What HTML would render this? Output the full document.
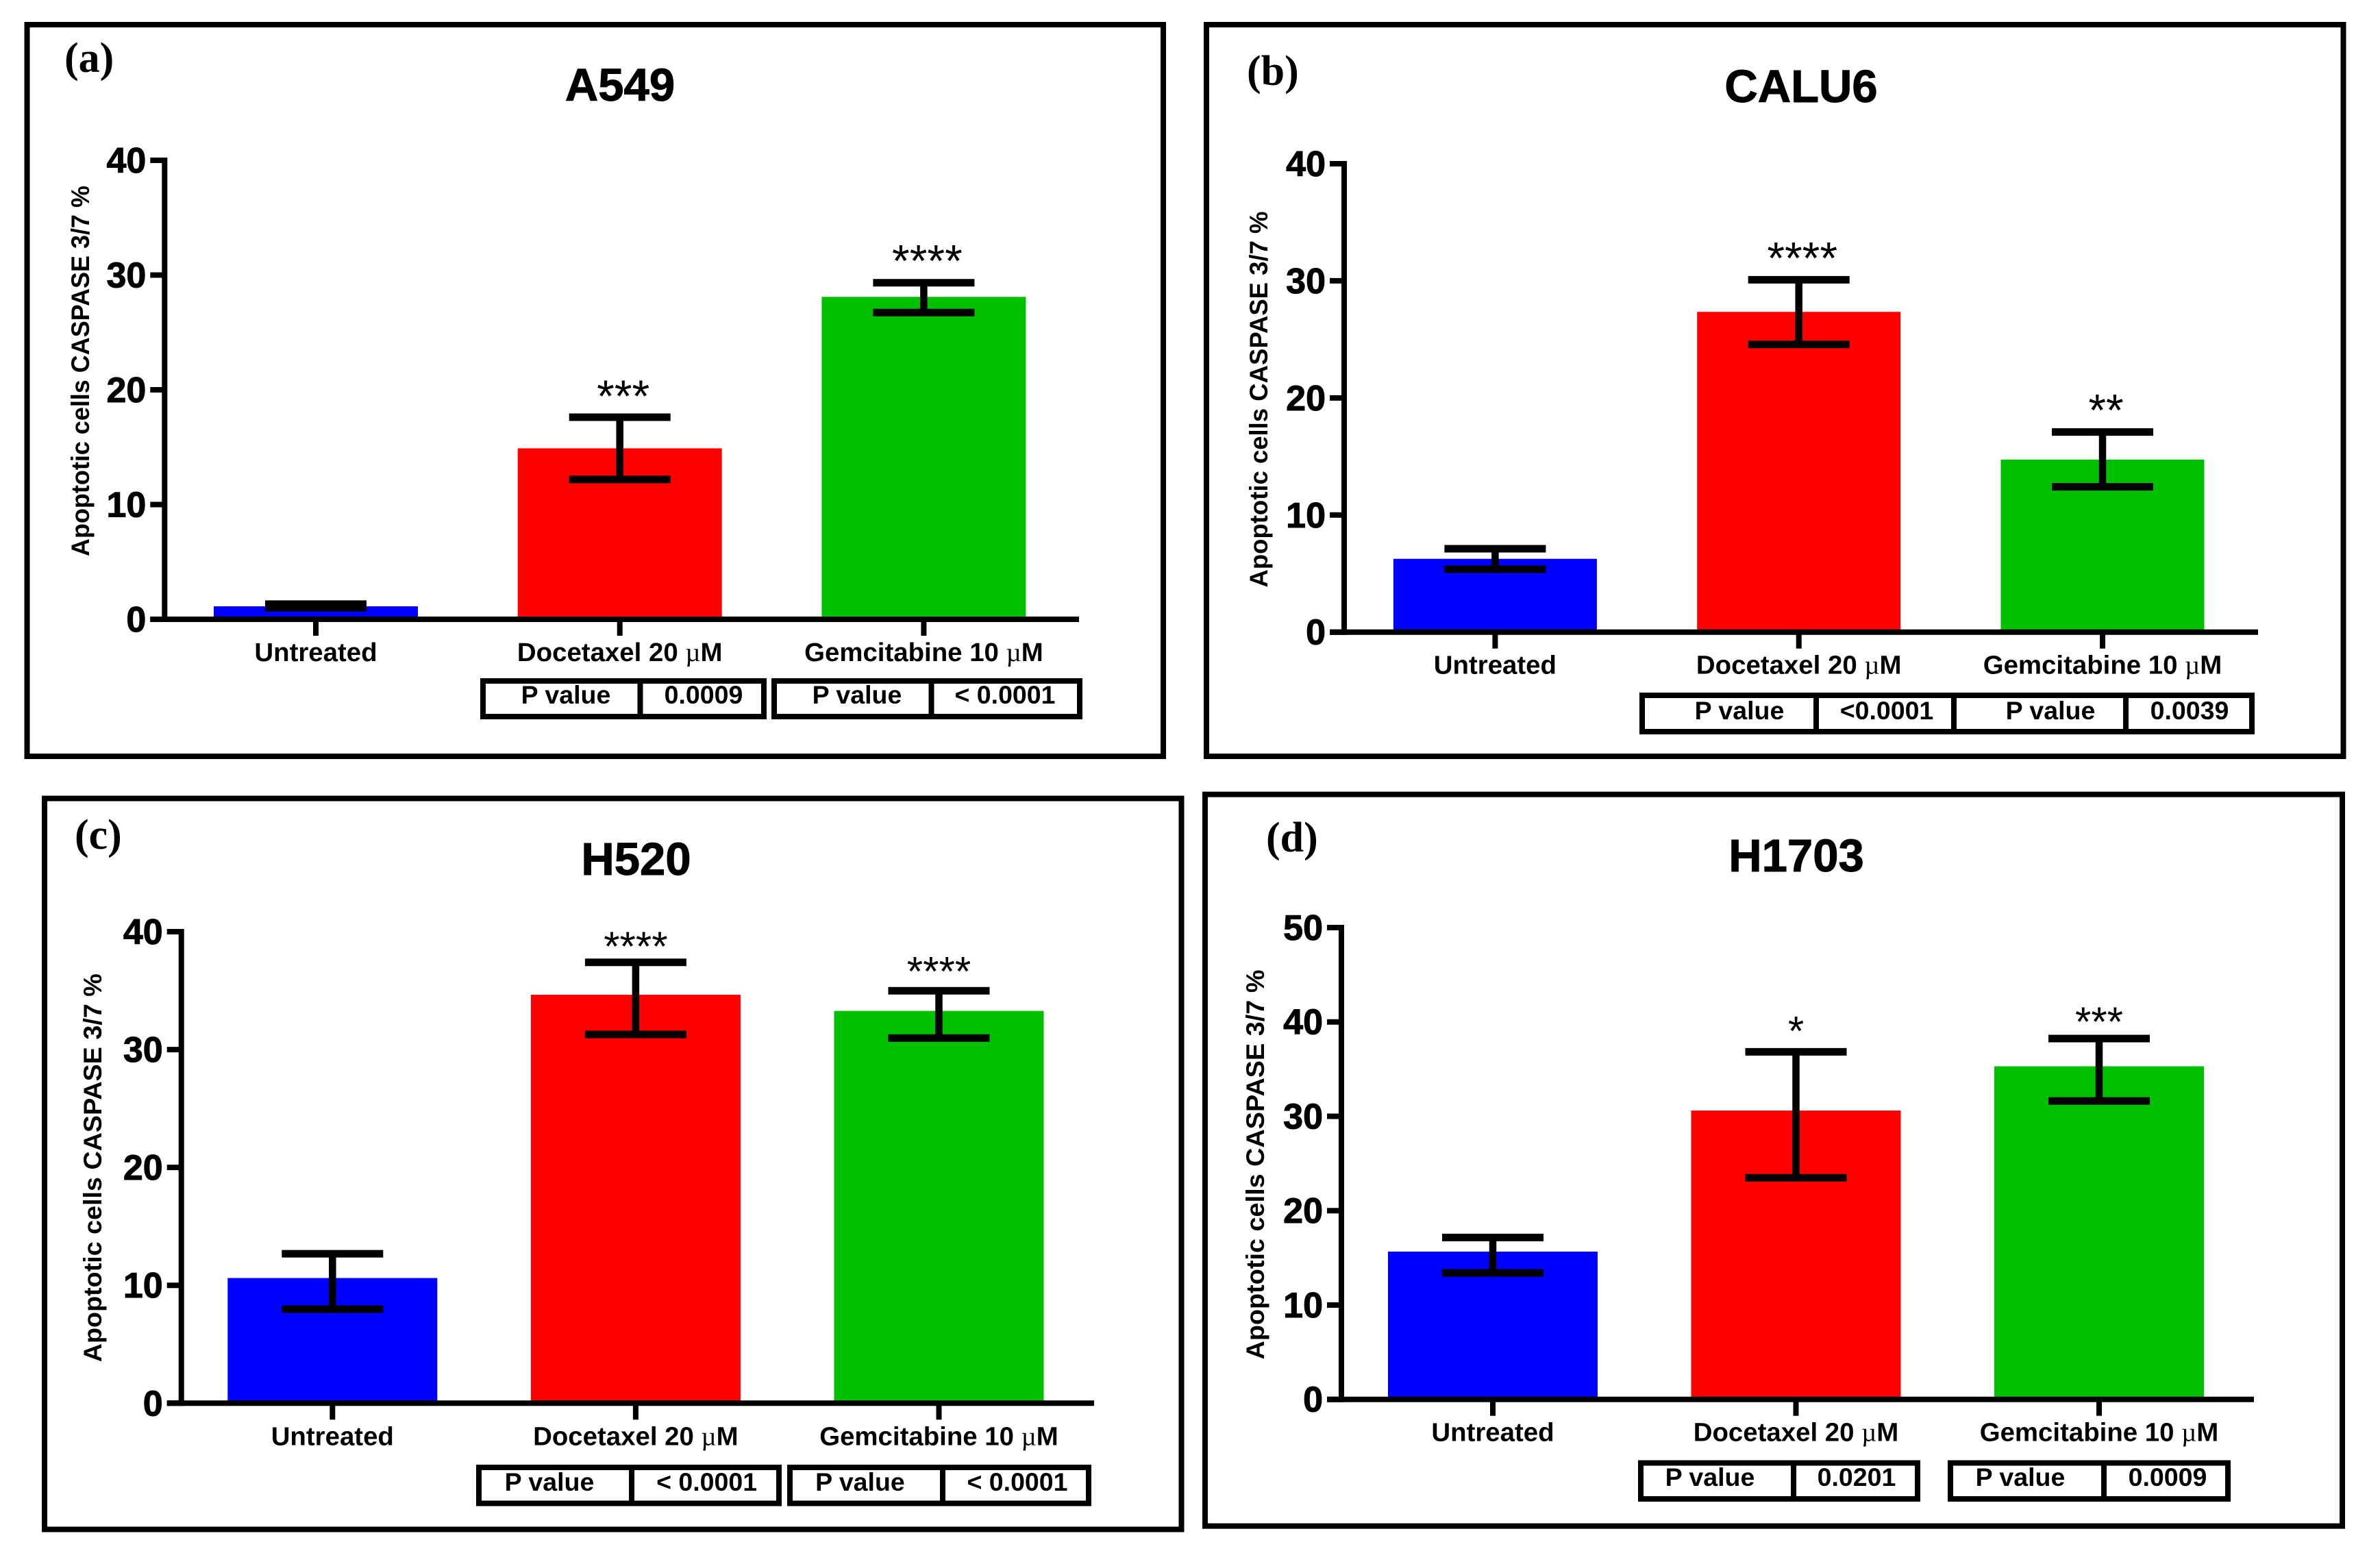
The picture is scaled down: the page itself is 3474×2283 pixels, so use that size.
<!DOCTYPE html>
<html lang="en">
<head>
<meta charset="utf-8">
<title>Apoptotic cells CASPASE 3/7 % in four cell lines</title>
<style>
html,body{margin:0;padding:0;background:#fff;}
svg{display:block;}
text{font-family:"Liberation Sans",sans-serif;fill:#000;}
.frame{fill:none;stroke:#000;stroke-width:8;}
.panel-label{font-family:"Liberation Serif",serif;font-weight:bold;font-size:62px;}
.title{font-weight:bold;font-size:67px;text-anchor:middle;stroke:#000;stroke-width:1;}
.y-title{font-weight:bold;font-size:37px;text-anchor:middle;}
.pbox{fill:none;stroke:#000;stroke-width:8;}
.ptext{font-weight:bold;font-size:37.5px;text-anchor:middle;}
</style>
</head>
<body>
<svg id="figure" xmlns="http://www.w3.org/2000/svg" width="3474" height="2283" viewBox="0 0 3474 2283">
<rect x="0" y="0" width="3474" height="2283" fill="#fff"/>

<g id="panel-a">
  <rect class="frame" x="39.5" y="36" width="1658.5" height="1068"/>
  <text class="panel-label" x="94" y="105">(a)</text>
  <text class="title" x="905" y="147">A549</text>
  <text class="y-title" transform="translate(130,541.5) rotate(-90)" textLength="541" lengthAdjust="spacingAndGlyphs">Apoptotic cells CASPASE 3/7 %</text>
  <g>
    <rect class="pbox" x="705" y="994" width="410" height="52"/>
    <line x1="934.5" x2="934.5" y1="994" y2="1046" stroke="#000" stroke-width="8"/>
    <text class="ptext" x="826" y="1027">P value</text>
    <text class="ptext" x="1027" y="1027">0.0009</text>
  </g>
  <g>
    <rect class="pbox" x="1130" y="994" width="446" height="52"/>
    <line x1="1359.5" x2="1359.5" y1="994" y2="1046" stroke="#000" stroke-width="8"/>
    <text class="ptext" x="1251" y="1027">P value</text>
    <text class="ptext" x="1467" y="1027">&lt; 0.0001</text>
  </g>
</g>

<g id="panel-b">
  <rect class="frame" x="1761" y="36" width="1659.5" height="1068"/>
  <text class="panel-label" x="1820" y="124">(b)</text>
  <text class="title" x="2629" y="149">CALU6</text>
  <text class="y-title" transform="translate(1850,583) rotate(-90)" textLength="549" lengthAdjust="spacingAndGlyphs">Apoptotic cells CASPASE 3/7 %</text>
  <g>
    <rect class="pbox" x="2397" y="1015" width="890" height="53"/>
    <line x1="2651" x2="2651" y1="1015" y2="1068" stroke="#000" stroke-width="8"/>
    <line x1="2852" x2="2852" y1="1015" y2="1068" stroke="#000" stroke-width="8"/>
    <line x1="3103" x2="3103" y1="1015" y2="1068" stroke="#000" stroke-width="8"/>
    <text class="ptext" x="2539" y="1050">P value</text>
    <text class="ptext" x="2754" y="1050">&lt;0.0001</text>
    <text class="ptext" x="2993" y="1050">P value</text>
    <text class="ptext" x="3196" y="1050">0.0039</text>
  </g>
</g>

<g id="panel-c">
  <rect class="frame" x="65" y="1165.5" width="1659.5" height="1067"/>
  <text class="panel-label" x="109" y="1239">(c)</text>
  <text class="title" x="928.5" y="1277">H520</text>
  <text class="y-title" transform="translate(148,1704.7) rotate(-90)" textLength="567" lengthAdjust="spacingAndGlyphs">Apoptotic cells CASPASE 3/7 %</text>
  <g>
    <rect class="pbox" x="699" y="2142" width="438" height="52.5"/>
    <line x1="922" x2="922" y1="2142" y2="2194.5" stroke="#000" stroke-width="8"/>
    <text class="ptext" x="802" y="2176">P value</text>
    <text class="ptext" x="1031.6" y="2176">&lt; 0.0001</text>
  </g>
  <g>
    <rect class="pbox" x="1153" y="2142" width="436" height="52.5"/>
    <line x1="1376" x2="1376" y1="2142" y2="2194.5" stroke="#000" stroke-width="8"/>
    <text class="ptext" x="1255.4" y="2176">P value</text>
    <text class="ptext" x="1485" y="2176">&lt; 0.0001</text>
  </g>
</g>

<g id="panel-d">
  <rect class="frame" x="1759" y="1159.6" width="1660" height="1068"/>
  <text class="panel-label" x="1848" y="1243">(d)</text>
  <text class="title" x="2622" y="1272">H1703</text>
  <text class="y-title" transform="translate(1845,1700) rotate(-90)" textLength="569" lengthAdjust="spacingAndGlyphs">Apoptotic cells CASPASE 3/7 %</text>
  <g>
    <rect class="pbox" x="2395" y="2135.5" width="404" height="52.5"/>
    <line x1="2618" x2="2618" y1="2135.5" y2="2188" stroke="#000" stroke-width="8"/>
    <text class="ptext" x="2496" y="2169">P value</text>
    <text class="ptext" x="2710" y="2169">0.0201</text>
  </g>
  <g>
    <rect class="pbox" x="2847" y="2135.5" width="405" height="52.5"/>
    <line x1="3071" x2="3071" y1="2135.5" y2="2188" stroke="#000" stroke-width="8"/>
    <text class="ptext" x="2949" y="2169">P value</text>
    <text class="ptext" x="3164" y="2169">0.0009</text>
  </g>
</g>
</svg>

<script>
const categories = ['Untreated', 'Docetaxel 20 µM', 'Gemcitabine 10 µM'];
const barColors = ['#0000ff', '#ff0000', '#00c000'];

const a549Ticks = [0, 10, 20, 30, 40];
const a549Means = [1.13, 14.9, 28.1];
const a549Upper = [1.32, 17.61, 29.33];
const a549Lower = [1.01, 12.19, 26.73];
const a549Stars = ['', '***', '****'];

const calu6Ticks = [0, 10, 20, 30, 40];
const calu6Means = [6.26, 27.35, 14.73];
const calu6Upper = [7.12, 30.09, 17.09];
const calu6Lower = [5.37, 24.57, 12.41];
const calu6Stars = ['', '****', '**'];

const h520Ticks = [0, 10, 20, 30, 40];
const h520Means = [10.62, 34.65, 33.28];
const h520Upper = [12.68, 37.4, 34.99];
const h520Lower = [7.98, 31.28, 30.98];
const h520Stars = ['', '****', '****'];

const h1703Ticks = [0, 10, 20, 30, 40, 50];
const h1703Means = [15.66, 30.61, 35.3];
const h1703Upper = [17.16, 36.83, 38.24];
const h1703Lower = [13.4, 23.48, 31.62];
const h1703Stars = ['', '*', '***'];

const NS = 'http://www.w3.org/2000/svg';

function make(parent, tag, attrs) {
  const el = document.createElementNS(NS, tag);
  for (const k in attrs) el.setAttribute(k, attrs[k]);
  parent.appendChild(el);
  return el;
}

function drawPanel(id, ticks, means, upper, lower, stars, L) {
  const host = document.getElementById(id);
  const g = make(host, 'g', {});
  
  

  const yMax = ticks[ticks.length - 1];
  const yScale = v => L.y0 - (v / yMax) * (L.y0 - L.yTop);
  const xCenter = i => L.x0 + i * L.step;

  means.forEach((m, i) => {
    const bar = make(g, 'rect', {
      x: xCenter(i) - L.barW / 2,
      y: yScale(m),
      width: L.barW,
      height: L.y0 - yScale(m),
      fill: barColors[i]
    });
    
    
  });

  means.forEach((m, i) => {
    const cx = xCenter(i);
    const stem = make(g, 'line', {x1: cx, x2: cx, y1: yScale(upper[i]), y2: yScale(lower[i]), stroke: '#000', 'stroke-width': 10.5});
    
    
    const capHi = make(g, 'line', {x1: cx - 74, x2: cx + 74, y1: yScale(upper[i]), y2: yScale(upper[i]), stroke: '#000', 'stroke-width': 11});
    
    
    const capLo = make(g, 'line', {x1: cx - 74, x2: cx + 74, y1: yScale(lower[i]), y2: yScale(lower[i]), stroke: '#000', 'stroke-width': 11});
    
    
    if (stars[i]) {
      const star = make(g, 'text', {x: cx + L.starDx, y: yScale(upper[i]) - L.starGap[i] + 0.47 * L.starSize, 'font-size': L.starSize, 'text-anchor': 'middle'});
      star.textContent = stars[i];
      
      
    }
  });

  const yAxis = make(g, 'line', {x1: L.axisX, x2: L.axisX, y1: L.yTop - 4, y2: L.y0 + 4, stroke: '#000', 'stroke-width': 8});
  
  
  const xAxis = make(g, 'line', {x1: L.axisX - 21, x2: L.xEnd, y1: L.y0, y2: L.y0, stroke: '#000', 'stroke-width': 8});
  
  

  ticks.forEach(t => {
    const tick = make(g, 'line', {x1: L.axisX - 21, x2: L.axisX, y1: yScale(t), y2: yScale(t), stroke: '#000', 'stroke-width': 8});
    
    
    const label = make(g, 'text', {x: L.axisX - 27, y: yScale(t) + 18, 'font-size': 52, 'font-weight': 'bold', 'text-anchor': 'end', stroke: '#000', 'stroke-width': 1});
    label.textContent = String(t);
    
    
  });

  categories.forEach((c, i) => {
    const cx = xCenter(i);
    const tick = make(g, 'line', {x1: cx, x2: cx, y1: L.y0, y2: L.y0 + 24, stroke: '#000', 'stroke-width': 8});
    
    
    const label = make(g, 'text', {x: cx, y: L.y0 + 61, 'font-size': 38.4, 'font-weight': 'bold', 'text-anchor': 'middle'});
    const parts = c.split('µ');
    const head = make(label, 'tspan', {});
    head.textContent = parts[0];
    if (parts.length > 1) {
      const mu = make(label, 'tspan', {style: 'font-family:"Liberation Serif",serif;font-weight:normal'});
      mu.textContent = 'µ';
      const tail = make(label, 'tspan', {});
      tail.textContent = parts[1];
    }
    
    
  });
}

drawPanel('panel-a', a549Ticks, a549Means, a549Upper, a549Lower, a549Stars,
  {x0: 461, step: 443.7, barW: 298, y0: 904, yTop: 234, axisX: 240.3, xEnd: 1575, starGap: [0, 39, 40], starSize: 66, starDx: 5});
drawPanel('panel-b', calu6Ticks, calu6Means, calu6Upper, calu6Lower, calu6Stars,
  {x0: 2182.4, step: 443.3, barW: 297, y0: 922.7, yTop: 239, axisX: 1962, xEnd: 3296, starGap: [0, 40, 40], starSize: 66, starDx: 5});
drawPanel('panel-c', h520Ticks, h520Means, h520Upper, h520Lower, h520Stars,
  {x0: 485.3, step: 442.6, barW: 306, y0: 2048.3, yTop: 1360, axisX: 264.7, xEnd: 1597, starGap: [0, 31, 36], starSize: 60, starDx: 0});
drawPanel('panel-d', h1703Ticks, h1703Means, h1703Upper, h1703Lower, h1703Stars,
  {x0: 2179, step: 442.5, barW: 306, y0: 2042.7, yTop: 1354, axisX: 1958, xEnd: 3290, starGap: [0, 38, 32], starSize: 60, starDx: 0});
</script>
</body>
</html>
